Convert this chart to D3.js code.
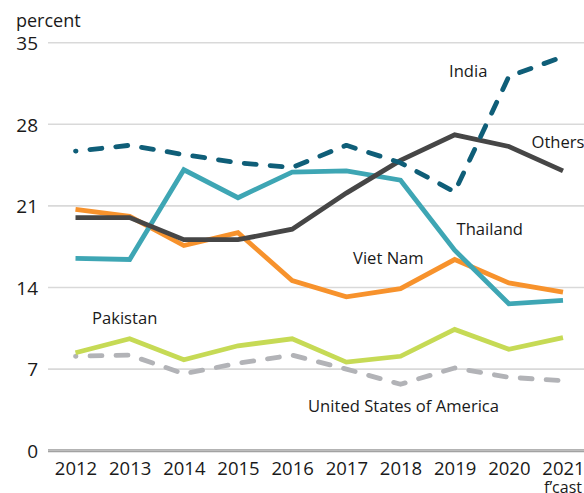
<!DOCTYPE html>
<html>
<head>
<meta charset="utf-8">
<script src="https://cdn.jsdelivr.net/npm/d3@7/dist/d3.min.js"></script>
<style>
  html, body { margin: 0; padding: 0; background: #fff; }
  svg { display: block; font-family: "Open Sans", "Noto Sans", sans-serif; }
</style>
</head>
<body>
<svg id="chart" width="584" height="493"></svg>
<script>
const years = ["2012","2013","2014","2015","2016","2017","2018","2019","2020","2021"];
const yTicks = [0, 7, 14, 21, 28, 35];

const india    = [25.7, 26.2, 25.4, 24.7, 24.3, 26.2, 24.7, 22.2, 32.1, 33.8];
const others   = [20.0, 20.0, 18.1, 18.1, 19.0, 22.1, 24.9, 27.1, 26.1, 24.0];
const thailand = [16.5, 16.4, 24.1, 21.7, 23.9, 24.0, 23.2, 17.2, 12.6, 12.9];
const vietnam  = [20.7, 20.1, 17.6, 18.7, 14.6, 13.2, 13.9, 16.4, 14.4, 13.6];
const pakistan = [8.4, 9.6, 7.8, 9.0, 9.6, 7.6, 8.1, 10.4, 8.7, 9.7];
const usa      = [8.1, 8.2, 6.6, 7.5, 8.2, 7.0, 5.7, 7.1, 6.3, 6.0];

const seriesNames = ["United States of America", "Pakistan", "Viet Nam", "Thailand", "Others", "India"];
const seriesValues = [usa, pakistan, vietnam, thailand, others, india];
const seriesColors = ["#b2b3b7", "#c6da55", "#f7922c", "#3ea6b4", "#464646", "#0f5e78"];
const seriesDashed = [true, false, false, false, false, true];

const svg = d3.select("#chart");
const x = d3.scalePoint().domain(years).range([75.5, 563]);
const y = d3.scaleLinear().domain([0, 35]).range([450.7, 42.7]);

// gridlines
svg.append("g").selectAll("line").data(yTicks.filter(d => d > 0)).join("line")
  .attr("x1", 48).attr("x2", 584)
  .attr("y1", d => y(d)).attr("y2", d => y(d))
  .attr("stroke", "#d9d9d9").attr("stroke-width", 1.6);

// baseline
svg.append("line").attr("x1", 48).attr("x2", 584)
  .attr("y1", y(0)).attr("y2", y(0))
  .attr("stroke", "#9a9a9a").attr("stroke-width", 3);
svg.append("line").attr("x1", 48).attr("x2", 584)
  .attr("y1", y(0)).attr("y2", y(0))
  .attr("stroke", "#d0d0d0").attr("stroke-width", 0.8);

// y axis labels
const yAxis = d3.axisLeft(y).tickValues(yTicks).tickSize(0).tickPadding(0);
const yg = svg.append("g").attr("transform", "translate(38,0)").call(yAxis);
yg.select(".domain").remove();
yg.selectAll("text").attr("font-size", 19).attr("fill", "#1a1a1a")
  .attr("font-family", "'Open Sans', sans-serif").attr("dy", "0.36em");

svg.append("text").attr("x", 16).attr("y", 27).text("percent")
  .attr("font-size", 18).attr("fill", "#1a1a1a");

// x axis labels
const xAxis = d3.axisBottom(x).tickSize(0).tickPadding(0);
const xg = svg.append("g").attr("transform", "translate(0,462)").call(xAxis);
xg.select(".domain").remove();
xg.selectAll("text").attr("font-size", 18.5).attr("fill", "#1a1a1a")
  .attr("font-family", "'Open Sans', sans-serif").attr("dy", "0.71em");
svg.append("text").attr("x", x("2021")).attr("y", 493).attr("text-anchor", "middle")
  .attr("font-size", 16).attr("fill", "#1a1a1a").text("f\u2019cast");

// lines
const line = d3.line().x((d, i) => x(years[i])).y(d => y(d));
seriesValues.forEach((vals, k) => {
  const p = svg.append("path").datum(vals)
    .attr("d", line)
    .attr("fill", "none")
    .attr("stroke", seriesColors[k])
    .attr("stroke-width", 4.8)
    .attr("stroke-linejoin", "miter");
  if (seriesDashed[k]) {
    p.attr("stroke-dasharray", "12,14").attr("stroke-dashoffset", 11.5)
     .attr("stroke-linecap", "round").attr("stroke-linejoin", "round");
  }
});

// labels (pixel positions of text, start-anchored)
const labelPos = [[308, 411.7], [92, 324], [353, 264.3], [456.5, 235], [531.5, 148], [449, 77]];
seriesNames.forEach((name, k) => {
  svg.append("text")
    .attr("x", labelPos[k][0])
    .attr("y", labelPos[k][1])
    .attr("font-size", 16.6).attr("fill", "#1a1a1a")
    .text(name);
});
</script>
</body>
</html>
